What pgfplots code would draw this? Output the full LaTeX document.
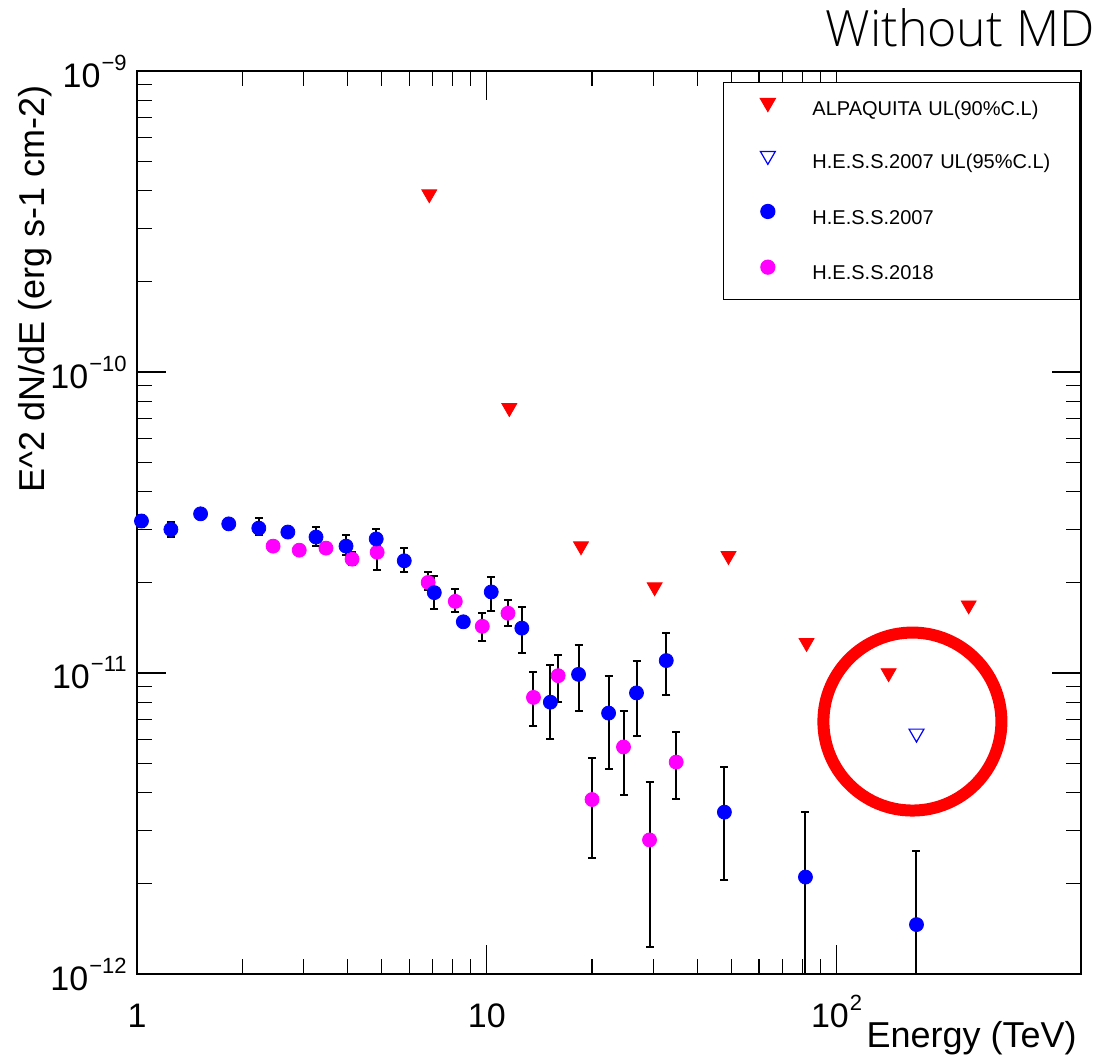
\documentclass[border=0pt]{standalone}
\usepackage{pgfplots}
\pgfplotsset{compat=1.18}
\usepackage{pgfplotstable}
\usepackage{fontspec}
\setmainfont{Liberation Sans}
\newfontfamily\titlefont{Open Sans Light}
\usetikzlibrary{calc}
\definecolor{rootmag}{RGB}{255,0,255}
\definecolor{rootblue}{RGB}{0,0,255}
\definecolor{rootred}{RGB}{255,0,0}

\newcommand\tl[1]{10\kern0.5pt\raisebox{8.5pt}{\fontsize{11}{11}\selectfont −#1}}

\pgfplotstableread{
x y
6.85 3.9e-10
11.6 7.6e-11
18.6 2.64e-11
30.2 1.93e-11
49.1 2.45e-11
82.1 1.26e-11
140.9 1.0e-11
238.7 1.68e-11
}\alp

\pgfplotstableread{
x y
169.3 6.3e-12
}\hessul

\pgfplotstableread{
x y hi lo
1.03 3.2e-11 3.35e-11 3.05e-11
1.25 3.0e-11 3.18e-11 2.83e-11
1.52 3.38e-11 3.45e-11 3.31e-11
1.83 3.13e-11 3.19e-11 3.07e-11
2.23 3.03e-11 3.27e-11 2.87e-11
2.70 2.94e-11 3.0e-11 2.88e-11
3.25 2.83e-11 3.05e-11 2.64e-11
3.96 2.64e-11 2.87e-11 2.47e-11
4.83 2.79e-11 3.01e-11 2.55e-11
5.81 2.36e-11 2.60e-11 2.17e-11
7.08 1.85e-11 2.10e-11 1.63e-11
8.57 1.48e-11 1.51e-11 1.45e-11
10.3 1.86e-11 2.08e-11 1.61e-11
12.6 1.41e-11 1.66e-11 1.17e-11
15.2 8.0e-12 1.06e-11 6.03e-12
18.3 9.9e-12 1.24e-11 7.48e-12
22.3 7.36e-12 9.77e-12 4.80e-12
26.8 8.59e-12 1.10e-11 6.18e-12
32.6 1.10e-11 1.36e-11 8.45e-12
47.8 3.45e-12 4.88e-12 2.05e-12
81.5 2.1e-12 3.45e-12 1e-13
169.3 1.46e-12 2.56e-12 1e-13
}\hessA

\pgfplotstableread{
x y hi lo
2.45 2.64e-11 2.68e-11 2.58e-11
2.91 2.56e-11 2.60e-11 2.52e-11
3.47 2.60e-11 2.66e-11 2.56e-11
4.12 2.39e-11 2.52e-11 2.29e-11
4.86 2.52e-11 2.64e-11 2.20e-11
6.80 2.0e-11 2.17e-11 1.89e-11
8.13 1.73e-11 1.90e-11 1.60e-11
9.71 1.43e-11 1.58e-11 1.28e-11
11.5 1.58e-11 1.75e-11 1.43e-11
13.6 8.3e-12 1.01e-11 6.67e-12
16.0 9.8e-12 1.15e-11 8.0e-12
20.0 3.8e-12 5.22e-12 2.43e-12
24.6 5.68e-12 7.48e-12 3.94e-12
29.2 2.79e-12 4.35e-12 1.23e-12
34.8 5.06e-12 6.37e-12 3.81e-12
}\hessB

\begin{document}
\begin{tikzpicture}
\begin{axis}[
  name=ax,
  scale only axis,
  width=472pt, height=451.5pt,
  xmode=log, ymode=log,
  xmin=1, xmax=500, ymin=1e-12, ymax=1e-9,
  axis line style={black, line width=0.9pt},
  tick align=inside,
  xtick pos=both, ytick pos=both,
  major tick length=14.5pt, minor tick length=7.5pt,
  every tick/.style={black, line width=0.6pt},
  xtick={1,10,100},
  xticklabels={1,10,{10\kern0.5pt\raisebox{8.5pt}{\fontsize{11}{11}\selectfont 2}}},
  ytick={1e-12,1e-11,1e-10,1e-9},
  yticklabels={\tl{12},\tl{11},\tl{10},\tl{9}},
  tick label style={font=\fontsize{17}{17}\selectfont, inner sep=0pt},
  xticklabel style={anchor=base, yshift=-26.5pt},
  yticklabel style={anchor=east, xshift=-5pt},
  xlabel={Energy (TeV)},
  ylabel={E\textasciicircum 2 dN/dE (erg s-1 cm-2)},
  xlabel style={at={(axis description cs:1,0)}, anchor=base east, yshift=-36.5pt, xshift=-2pt, inner sep=0pt, font=\fontsize{18}{18}\selectfont},
  ylabel style={at={(axis description cs:-0.0975,0.9845)}, anchor=base east, inner sep=0pt, font=\fontsize{18}{18}\selectfont},
  clip=true,
  legend style={at={(axis description cs:0.999,0.988)}, anchor=north east,
    draw=black, line width=0.6pt, fill=white,
    inner xsep=9pt, inner ysep=8pt, row sep=16pt,
    font=\fontsize{10}{10}\selectfont,
    nodes={inner sep=0pt, text width=124.5pt, text height=7.5pt, text depth=2pt, align=left},
    cells={anchor=west}},
  legend image code/.code={\path (-13pt,0pt) (22pt,0pt); \draw[#1] plot coordinates {(0pt,3.6pt)};},
  error bars/error bar style={black, line width=1pt},
  error bars/error mark=-,
  error bars/error mark options={rotate=90, black, line width=1pt, mark size=2pt},
]
\addplot[only marks, mark=triangle*, mark size=4.3pt, rootred, mark options={rotate=180, fill=rootred, draw=rootred}] table[x=x, y=y] {\alp};
\addlegendentry{ALPAQUITA UL(90\%C.L)}
\addplot[only marks, mark=triangle, mark size=4.3pt, rootblue, mark options={rotate=180, draw=rootblue, line width=0.6pt}] table[x=x, y=y] {\hessul};
\addlegendentry{H.E.S.S.2007 UL(95\%C.L)}
\addlegendimage{only marks, mark=*, mark size=3.5pt, rootblue, mark options={fill=rootblue, draw=rootblue}}
\addlegendentry{H.E.S.S.2007}
\addlegendimage{only marks, mark=*, mark size=3.5pt, rootmag, mark options={fill=rootmag, draw=rootmag}}
\addlegendentry{H.E.S.S.2018}
\addplot[forget plot, only marks, mark=*, mark size=3.5pt, rootmag, mark options={fill=rootmag, draw=rootmag},
  error bars/.cd, y dir=both, y explicit]
  table[x=x, y=y, y error plus expr=\thisrow{hi}-\thisrow{y}, y error minus expr=\thisrow{y}-\thisrow{lo}] {\hessB};
\addplot[forget plot, only marks, mark=*, mark size=3.5pt, rootblue, mark options={fill=rootblue, draw=rootblue},
  error bars/.cd, y dir=both, y explicit]
  table[x=x, y=y, y error plus expr=\thisrow{hi}-\thisrow{y}, y error minus expr=\thisrow{y}-\thisrow{lo}] {\hessA};
\draw[rootred, line width=6pt] (axis cs:164.8,6.9e-12) circle[radius=44.5pt];
\end{axis}
\node[anchor=base east, inner sep=0pt, font=\titlefont\fontsize{25}{25}\selectfont] at ($(ax.north east)+(7pt,12pt)$) {Without MD};
\pgfresetboundingbox
\path ($(ax.south west)+(-68.5pt,-42pt)$) rectangle ($(ax.north east)+(7.5pt,35.5pt)$);
\end{tikzpicture}
\end{document}
